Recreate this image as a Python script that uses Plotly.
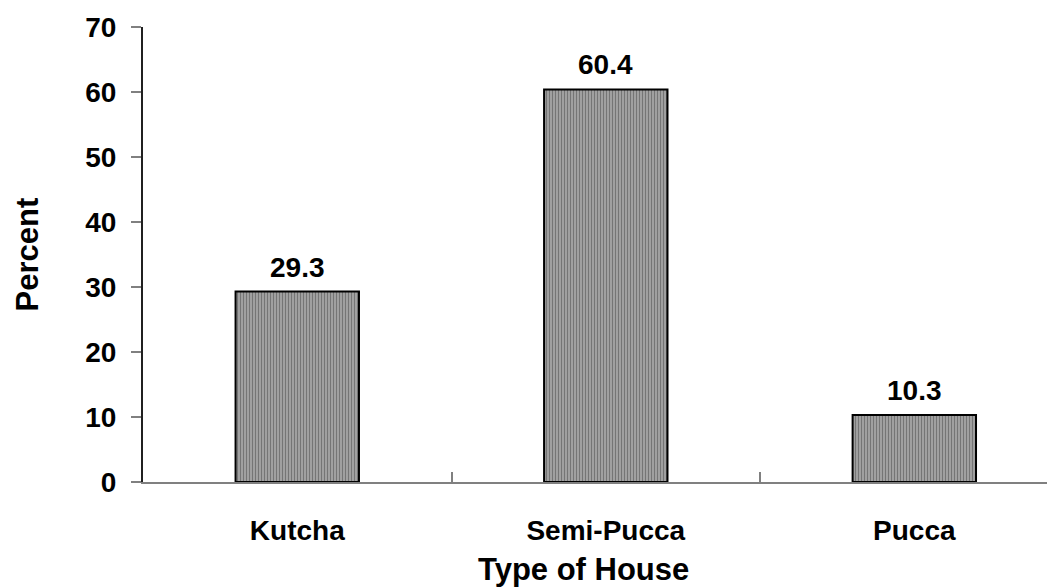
import plotly.graph_objects as go

categories = ["Kutcha", "Semi-Pucca", "Pucca"]
percent = [29.3, 60.4, 10.3]
y_ticks = [0, 10, 20, 30, 40, 50, 60, 70]

FONT = "Liberation Sans, Arial, sans-serif"

fig = go.Figure()
fig.add_trace(go.Bar(
    x=categories, y=percent, width=0.4,
    marker=dict(color="#9a9a9a",
                line=dict(color="#000000", width=2),
                pattern=dict(shape="|", fgcolor="#4a4a4a", bgcolor="#a0a0a0",
                             size=3, solidity=0.35, fillmode="overlay")),
    showlegend=False,
))
for c, v in zip(categories, percent):
    fig.add_annotation(x=c, y=v, text=f"<b>{v}</b>", showarrow=False,
                       yanchor="bottom", yshift=7,
                       font=dict(family=FONT, size=28, color="black"))

# axis titles
fig.add_annotation(xref="paper", yref="paper", x=0.4825, y=0, yanchor="middle",
                   yshift=-87, text="<b>Type of House</b>", showarrow=False,
                   font=dict(family=FONT, size=31, color="black"))
fig.add_annotation(xref="paper", yref="paper", x=0, y=0.5, xanchor="center",
                   xshift=-116, textangle=-90, text="<b>Percent</b>", showarrow=False,
                   font=dict(family=FONT, size=31, color="black"))

fig.update_layout(
    width=1055, height=588,
    paper_bgcolor="white", plot_bgcolor="white",
    margin=dict(l=135, r=8, t=19, b=114, autoexpand=False),
    font=dict(family=FONT, size=28, color="black"),
)
fig.update_xaxes(
    type="category", range=[-0.5, 2.456],
    tickvals=categories, ticktext=[f"<b>{c}</b>" for c in categories],
    showline=True, linecolor="#808080", linewidth=2,
    ticks="inside", tickson="boundaries", ticklen=10, tickcolor="#808080", tickwidth=2,
    tickfont=dict(family=FONT, size=28), ticklabelstandoff=22,
    showgrid=False,
)
fig.update_yaxes(
    range=[0, 70], tickvals=y_ticks, ticktext=[f"<b>{t}</b>" for t in y_ticks],
    showline=True, linecolor="#202020", linewidth=2,
    ticks="outside", ticklen=10, tickcolor="#808080", tickwidth=2,
    tickfont=dict(family=FONT, size=28), ticklabelstandoff=9,
    showgrid=False, zeroline=False,
)
fig.write_html("out.html")
